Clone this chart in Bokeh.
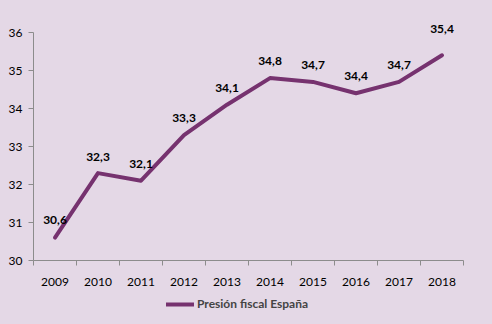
from bokeh.plotting import figure
from bokeh.layouts import column
from bokeh.models import FixedTicker, Legend, LegendItem, ColumnDataSource, Range1d
from bokeh.core.properties import value
from bokeh.embed import file_html
from bokeh.resources import INLINE

years = ["2009", "2010", "2011", "2012", "2013", "2014", "2015", "2016", "2017", "2018"]
presion = [30.6, 32.3, 32.1, 33.3, 34.1, 34.8, 34.7, 34.4, 34.7, 35.4]
labels = ["30,6", "32,3", "32,1", "33,3", "34,1", "34,8", "34,7", "34,4", "34,7", "35,4"]
y_ticks = [30, 31, 32, 33, 34, 35, 36]
series_name = "Presión fiscal España"

# label offsets in screen pixels (style)
label_dy = [-18, -16, -17, -17, -17, -17, -17, -17, -17, -26]

BG = "#E4D8E6"
LINE = "#76326F"
FONT = "Lato"

xs = [i + 0.5 for i in range(len(years))]
src = ColumnDataSource(dict(x=xs, y=presion, lab=labels, dy=label_dy))

FH = 239
p = figure(width=492, height=290, output_backend="svg", toolbar_location=None,
           x_range=Range1d(0, len(years)), y_range=Range1d(30, 30 + FH / 38.0),
           background_fill_color=BG, border_fill_color=BG,
           min_border_left=33, min_border_right=29, min_border_top=21, min_border_bottom=30)
p.outline_line_color = None
p.xgrid.visible = False
p.ygrid.visible = False

r = p.line("x", "y", source=src, line_color=LINE, line_width=4, line_cap="round", line_join="round")
p.text("x", "y", text="lab", source=src, text_font=value(FONT), text_font_style="bold",
       text_font_size="12px", text_align="center", text_baseline="middle", y_offset="dy",
       text_color="black")

p.xaxis.ticker = FixedTicker(ticks=xs, minor_ticks=list(range(len(years) + 1)))
p.xaxis.major_label_overrides = {x: y for x, y in zip(xs, years)}
p.xaxis.major_tick_out = 0
p.xaxis.major_tick_in = 0
p.xaxis.minor_tick_out = 5
p.xaxis.minor_tick_in = 0
p.xaxis.major_label_standoff = 12

p.yaxis.ticker = FixedTicker(ticks=y_ticks)
p.yaxis.bounds = (y_ticks[0], y_ticks[-1])
p.yaxis.major_tick_out = 5
p.yaxis.major_tick_in = 0
p.yaxis.minor_tick_out = 0
p.yaxis.minor_tick_in = 0
p.yaxis.major_label_standoff = 6

for ax in (p.xaxis, p.yaxis):
    ax.axis_line_color = "#8C8C8C"
    ax.major_tick_line_color = "#8C8C8C"
    ax.minor_tick_line_color = "#8C8C8C"
    ax.major_label_text_font = FONT
    ax.major_label_text_font_size = "12px"
    ax.major_label_text_color = "black"

# legend strip below the chart (frame aligned with the chart's frame)
p2 = figure(width=492, height=34, output_backend="svg", toolbar_location=None,
            x_axis_type=None, y_axis_type=None,
            x_range=Range1d(0, len(years)), y_range=Range1d(0, 1),
            background_fill_color=BG, border_fill_color=BG,
            min_border=0, min_border_left=33, min_border_right=29,
            min_border_top=0, min_border_bottom=0)
p2.outline_line_color = None
p2.xgrid.visible = False
p2.ygrid.visible = False
# single-point proxy (draws nothing itself) that only styles the legend entry
proxy = p2.line(x=[-5.0], y=[-5.0], line_color=LINE, line_width=4, line_cap="round")

legend = Legend(items=[LegendItem(label=series_name, renderers=[proxy])],
                orientation="horizontal", location=(133, 13),
                background_fill_alpha=0, border_line_color=None,
                label_text_font=FONT, label_text_font_style="bold", label_text_font_size="12px",
                glyph_width=28, glyph_height=12, spacing=0, padding=0, margin=0,
                label_standoff=3, label_height=14)
p2.add_layout(legend, "center")

layout = column(p, p2, spacing=0, styles={"background-color": BG})
html = file_html(layout, INLINE)
html = html.replace("<body>", '<body style="background-color:%s;margin:0">' % BG, 1)
open("out.html", "w").write(html)
